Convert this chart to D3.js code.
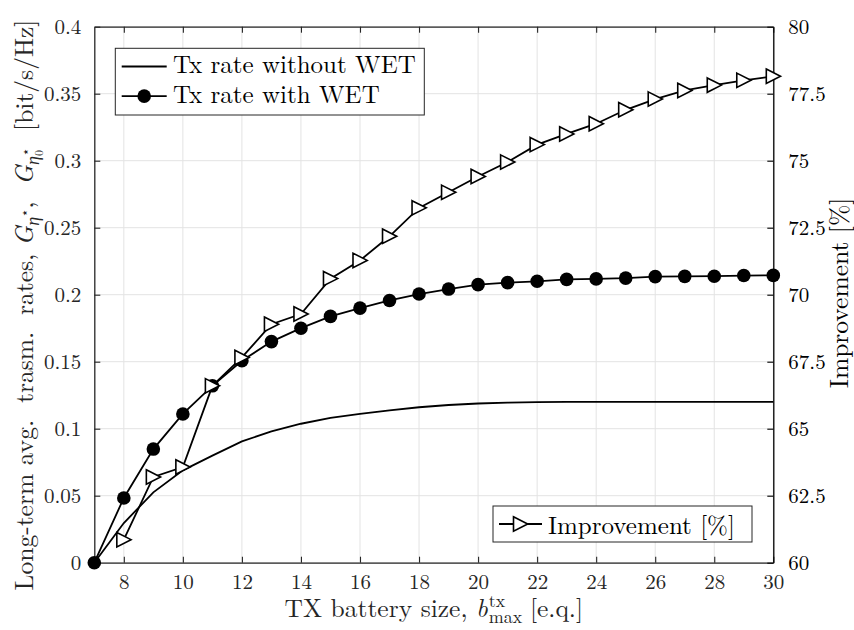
<!DOCTYPE html>
<html>
<head>
<meta charset="utf-8">
<script src="https://cdn.jsdelivr.net/npm/d3@7"></script>
<style>
  html, body { margin: 0; padding: 0; background: #fff; }
</style>
</head>
<body>
<svg id="chart" width="854" height="630"></svg>
<script>
// ---------------- data ----------------
const batterySize = [7, 8, 9, 10, 11, 12, 13, 14, 15, 16, 17, 18, 19, 20, 21, 22, 23, 24, 25, 26, 27, 28, 29, 30];
const rateWithoutWET = [0, 0.0296, 0.0525, 0.0689, 0.0799, 0.0905, 0.098, 0.1037, 0.108, 0.111, 0.1137, 0.116,
  0.1177, 0.1188, 0.1195, 0.1199, 0.12, 0.12, 0.12, 0.12, 0.12, 0.12, 0.12, 0.12];
const rateWithWET = [0, 0.0483, 0.0848, 0.111, 0.132, 0.1507, 0.165, 0.175, 0.1838, 0.19, 0.1957, 0.2005,
  0.2042, 0.2075, 0.209, 0.21, 0.2114, 0.2118, 0.2124, 0.2135, 0.2137, 0.2138, 0.2143, 0.2144];
const improvementX = [8, 9, 10, 11, 12, 13, 14, 15, 16, 17, 18, 19, 20, 21, 22, 23, 24, 25, 26, 27, 28, 29, 30];
const improvement = [60.86, 63.2, 63.57, 66.6, 67.66, 68.9, 69.28, 70.6, 71.28, 72.18, 73.24, 73.82, 74.41,
  74.95, 75.6, 76.0, 76.38, 76.9, 77.3, 77.62, 77.82, 78.0, 78.15];
const xTicks = [8, 10, 12, 14, 16, 18, 20, 22, 24, 26, 28, 30];
const yLeftTicks = [0, 0.05, 0.1, 0.15, 0.2, 0.25, 0.3, 0.35, 0.4];
const yRightTicks = [60, 62.5, 65, 67.5, 70, 72.5, 75, 77.5, 80];
const legendLabels = ["Tx rate without WET", "Tx rate with WET", "Improvement [%]"];

// ---------------- layout ----------------
const FONT = '"Latin Modern Roman", "Liberation Serif", serif';
const L = 94.3, R = 773.3, T = 26.7, B = 562.7;
const svg = d3.select("#chart");
const x = d3.scaleLinear().domain([7, 30]).range([L, R]);
const yL = d3.scaleLinear().domain([0, 0.4]).range([B, T]);
const yR = d3.scaleLinear().domain([60, 80]).range([B, T]);
const axisCol = "#262626";
const gridCol = "#e3e3e3";

// grid
const grid = svg.append("g");
grid.selectAll("line.gx").data(xTicks).join("line")
  .attr("x1", d => x(d)).attr("x2", d => x(d)).attr("y1", T).attr("y2", B)
  .attr("stroke", gridCol).attr("stroke-width", 1);
grid.selectAll("line.gy").data(yLeftTicks).join("line")
  .attr("x1", L).attr("x2", R).attr("y1", d => yL(d)).attr("y2", d => yL(d))
  .attr("stroke", gridCol).attr("stroke-width", 1);

// axes via d3
const fmt = d => d3.format("~g")(d);
const axB = d3.axisBottom(x).tickValues(xTicks).tickSizeInner(-6).tickSizeOuter(0).tickPadding(11);
const axT = d3.axisTop(x).tickValues(xTicks).tickSizeInner(-6).tickSizeOuter(0).tickFormat("");
const axLft = d3.axisLeft(yL).tickValues(yLeftTicks).tickSizeInner(-6).tickSizeOuter(0).tickPadding(13).tickFormat(fmt);
const axRgt = d3.axisRight(yR).tickValues(yRightTicks).tickSizeInner(-6).tickSizeOuter(0).tickPadding(15).tickFormat(fmt);

function styleAxis(g, col) {
  g.attr("font-family", FONT).attr("font-size", 21);
  g.select(".domain").attr("stroke", col).attr("stroke-width", 1.3);
  g.selectAll(".tick line").attr("stroke", col).attr("stroke-width", 1.1);
  g.selectAll(".tick text").attr("fill", col).attr("font-size", 21).attr("font-family", FONT);
}
svg.append("g").attr("transform", `translate(0,${B})`).call(axB).call(g => styleAxis(g, axisCol));
svg.append("g").attr("transform", `translate(0,${T})`).call(axT).call(g => styleAxis(g, axisCol));
svg.append("g").attr("transform", `translate(${L},0)`).call(axLft).call(g => styleAxis(g, axisCol));
svg.append("g").attr("transform", `translate(${R},0)`).call(axRgt).call(g => styleAxis(g, "#000"));

// ---------------- data marks ----------------
const lw = 1.8;
const lineL = d3.line().x((d, i) => x(batterySize[i])).y(d => yL(d));
svg.append("path").datum(rateWithoutWET).attr("d", lineL)
  .attr("fill", "none").attr("stroke", "#000").attr("stroke-width", lw);
svg.append("path").datum(rateWithWET).attr("d", lineL)
  .attr("fill", "none").attr("stroke", "#000").attr("stroke-width", lw);
svg.append("g").selectAll("circle").data(rateWithWET).join("circle")
  .attr("cx", (d, i) => x(batterySize[i])).attr("cy", d => yL(d)).attr("r", 6.8).attr("fill", "#000");

const lineR = d3.line().x((d, i) => x(improvementX[i])).y(d => yR(d));
svg.append("path").datum(improvement).attr("d", lineR)
  .attr("fill", "none").attr("stroke", "#000").attr("stroke-width", lw);
const tri = (cx, cy) => `M${cx - 7},${cy - 7.2}L${cx + 7.2},${cy}L${cx - 7},${cy + 7.2}Z`;
svg.append("g").selectAll("path").data(improvement).join("path")
  .attr("d", (d, i) => tri(x(improvementX[i]), yR(d)))
  .attr("fill", "#fff").attr("stroke", "#000").attr("stroke-width", 1.6).attr("stroke-linejoin", "miter");

// ---------------- legends ----------------
const lfs = 25;
const lg1 = svg.append("g");
lg1.append("rect").attr("x", 115.3).attr("y", 48.3).attr("width", 309).attr("height", 66.7)
  .attr("fill", "#fff").attr("stroke", axisCol).attr("stroke-width", 1);
[0, 1].forEach(i => {
  const yy = 66.5 + i * 29.6;
  lg1.append("line").attr("x1", 121.7).attr("x2", 166.7).attr("y1", yy).attr("y2", yy)
    .attr("stroke", "#000").attr("stroke-width", lw);
  if (i === 1) lg1.append("circle").attr("cx", 144.2).attr("cy", yy).attr("r", 6.8).attr("fill", "#000");
  lg1.append("text").attr("x", 173).attr("y", yy + 6.8).attr("font-size", lfs).attr("font-family", FONT)
    .attr("fill", "#000").text(legendLabels[i]);
});
const lg2 = svg.append("g");
lg2.append("rect").attr("x", 493).attr("y", 506).attr("width", 259).attr("height", 36)
  .attr("fill", "#fff").attr("stroke", axisCol).attr("stroke-width", 1);
lg2.append("line").attr("x1", 499).attr("x2", 542).attr("y1", 524).attr("y2", 524)
  .attr("stroke", "#000").attr("stroke-width", lw);
lg2.append("path").attr("d", tri(520.5, 524)).attr("fill", "#fff").attr("stroke", "#000").attr("stroke-width", 1.6);
lg2.append("text").attr("x", 548).attr("y", 534).attr("font-size", lfs).attr("font-family", FONT)
  .attr("fill", "#000").text(legendLabels[2]);

// ---------------- axis labels ----------------
const fs = 25.5;
// x label
const xl = svg.append("g").attr("fill", axisCol).attr("font-family", FONT);
let w = 0;
const t1 = xl.append("text").attr("x", 0).attr("font-size", fs).text("TX battery size,");
w += t1.node().getComputedTextLength() + fs * 0.333;
const tb = xl.append("text").attr("x", w).attr("font-size", fs).attr("font-style", "italic").text("b");
w += tb.node().getComputedTextLength() + 1;
const tsup = xl.append("text").attr("x", w).attr("y", -10).attr("font-size", 18).text("tx");
const tsub = xl.append("text").attr("x", w).attr("y", 6).attr("font-size", 18).text("max");
w += Math.max(tsup.node().getComputedTextLength(), tsub.node().getComputedTextLength()) + fs * 0.3;
const t3 = xl.append("text").attr("x", w).attr("font-size", fs).text("[e.q.]");
w += t3.node().getComputedTextLength();
xl.attr("transform", `translate(${(L + R) / 2 - w / 2},617)`);

// left y label
const yl = svg.append("text").attr("transform", "translate(33,305) rotate(-90)")
  .attr("text-anchor", "middle").attr("font-size", fs).attr("font-family", FONT)
  .attr("fill", axisCol).style("white-space", "pre");
yl.append("tspan").text("Long-term avg.  trasm.  rates, ");
yl.append("tspan").attr("font-style", "italic").text("G");
yl.append("tspan").attr("font-style", "italic").attr("font-size", 18).attr("dy", 6).text("η");
yl.append("tspan").attr("font-size", 13).attr("dy", -10).text("⋆");
yl.append("tspan").attr("dy", 4).text(",  ");
yl.append("tspan").attr("font-style", "italic").text("G");
yl.append("tspan").attr("font-style", "italic").attr("font-size", 18).attr("dy", 6).text("η");
yl.append("tspan").attr("font-size", 12).attr("dy", 4).text("0");
yl.append("tspan").attr("font-size", 13).attr("dx", -6).attr("dy", -13).text("⋆");
yl.append("tspan").attr("dy", 3).text("  [bit/s/Hz]");

// right y label
svg.append("text").attr("transform", "translate(848,293) rotate(-90)")
  .attr("text-anchor", "middle").attr("font-size", fs).attr("font-family", FONT)
  .attr("fill", "#000").text("Improvement [%]");
</script>
</body>
</html>
